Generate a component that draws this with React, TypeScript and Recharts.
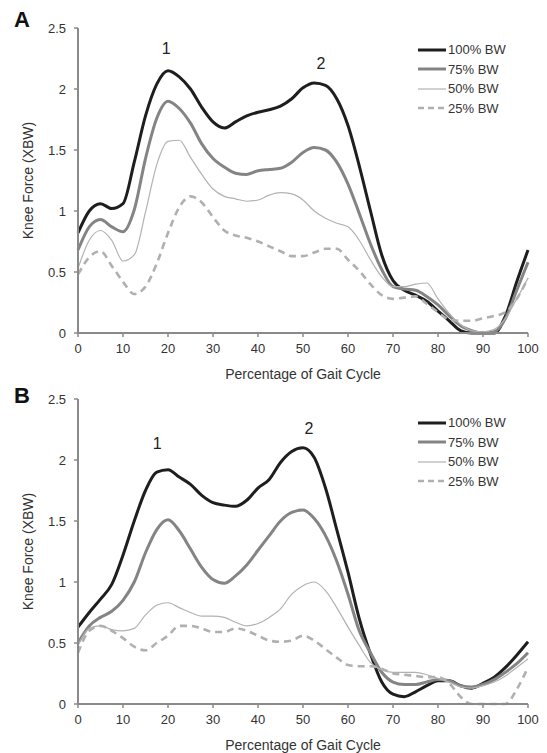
import { LineChart, Line, XAxis, YAxis, Legend, ReferenceDot } from "recharts";

// percentage of gait cycle, sampled every 2.5 %
const gaitPct = [
  0, 2.5, 5, 7.5, 10, 12.5, 15, 17.5, 20, 22.5, 25, 27.5, 30, 32.5, 35, 37.5, 40, 42.5, 45, 47.5,
  50, 52.5, 55, 57.5, 60, 62.5, 65, 67.5, 70, 72.5, 75, 77.5, 80, 82.5, 85, 87.5, 90, 92.5, 95, 97.5, 100,
];

// panel A
const a100 = [
  0.82, 1.0, 1.06, 1.02, 1.06, 1.4, 1.78, 2.04, 2.15, 2.1, 2.0, 1.85, 1.73, 1.68, 1.73, 1.78, 1.81, 1.83, 1.86, 1.92,
  2.01, 2.05, 2.03, 1.92, 1.7, 1.37, 1.0, 0.64, 0.43, 0.35, 0.31, 0.26, 0.18, 0.1, 0.02, 0, 0, 0, 0.14, 0.42, 0.68,
];
const a75 = [
  0.68, 0.87, 0.93, 0.87, 0.83, 1.01, 1.43, 1.76, 1.9, 1.84, 1.72, 1.55, 1.43, 1.36, 1.31, 1.3, 1.33, 1.34, 1.35, 1.4,
  1.48, 1.52, 1.5, 1.4, 1.22, 0.98, 0.73, 0.52, 0.38, 0.36, 0.35, 0.3, 0.23, 0.14, 0.06, 0.02, 0, 0.01, 0.12, 0.35, 0.58,
];
const a50 = [
  0.53, 0.76, 0.84, 0.76, 0.59, 0.64, 0.99, 1.38, 1.57, 1.58, 1.44, 1.3, 1.18, 1.12, 1.1, 1.08, 1.09, 1.13, 1.15, 1.14,
  1.09, 1.0, 0.94, 0.9, 0.87, 0.76, 0.6, 0.46, 0.38, 0.38, 0.4, 0.41, 0.28, 0.16, 0.07, 0.02, 0.01, 0.03, 0.12, 0.28, 0.45,
];
const a25 = [
  0.48, 0.62, 0.67, 0.55, 0.42, 0.32, 0.38, 0.57, 0.82, 1.03, 1.12, 1.07, 0.95, 0.84, 0.8, 0.78, 0.75, 0.71, 0.67, 0.63,
  0.63, 0.66, 0.69, 0.69, 0.6, 0.51, 0.4, 0.31, 0.28, 0.29, 0.3, 0.24, 0.17, 0.11, 0.1, 0.1, 0.12, 0.14, 0.17, 0.28, 0.45,
];

// panel B
const b100 = [
  0.63, 0.75, 0.86, 0.98, 1.22, 1.5, 1.75, 1.9, 1.92, 1.86, 1.8, 1.71, 1.65, 1.63, 1.62, 1.67, 1.77, 1.84, 1.98, 2.07,
  2.1, 2.02, 1.77, 1.43, 1.08, 0.7, 0.41, 0.18, 0.08, 0.06, 0.1, 0.15, 0.19, 0.19, 0.15, 0.13, 0.17, 0.22, 0.3, 0.4, 0.51,
];
const b75 = [
  0.5, 0.64, 0.71, 0.76, 0.85, 1.0, 1.24, 1.43, 1.51, 1.42, 1.27, 1.12, 1.02, 0.99, 1.05, 1.14, 1.26, 1.38, 1.5, 1.57,
  1.59, 1.52, 1.38, 1.17, 0.9, 0.6, 0.42, 0.26, 0.18, 0.16, 0.16, 0.18, 0.2, 0.19, 0.15, 0.14, 0.16, 0.2, 0.26, 0.33, 0.42,
];
const b50 = [
  0.48, 0.62, 0.64, 0.61, 0.6, 0.62, 0.73, 0.81, 0.83, 0.79, 0.75, 0.72, 0.72, 0.71, 0.67, 0.64, 0.66, 0.71, 0.78, 0.9,
  0.97, 1.0, 0.93, 0.79, 0.63, 0.48, 0.34, 0.28, 0.26, 0.26, 0.26, 0.24, 0.21, 0.18, 0.14, 0.13, 0.15, 0.18, 0.23, 0.3, 0.37,
];
const b25 = [
  0.42, 0.6, 0.64, 0.6, 0.54, 0.47, 0.44, 0.5, 0.56, 0.64, 0.64, 0.62, 0.59, 0.59, 0.62, 0.6, 0.56, 0.52, 0.51, 0.52,
  0.56, 0.52, 0.45, 0.38, 0.32, 0.31, 0.31, 0.29, 0.25, 0.24, 0.23, 0.22, 0.22, 0.17, 0.06, 0, 0, 0, 0, 0.12, 0.3,
];

const seriesNames = ["100% BW", "75% BW", "50% BW", "25% BW"];
const xTicks = [0, 10, 20, 30, 40, 50, 60, 70, 80, 90, 100];
const yTicks = [0, 0.5, 1, 1.5, 2, 2.5];

// peak markers "1" and "2": [pct, force]
const peaksA = [
  { text: "1", x: 19.6, y: 2.33 },
  { text: "2", x: 54, y: 2.21 },
];
const peaksB = [
  { text: "1", x: 17.6, y: 2.14 },
  { text: "2", x: 51.3, y: 2.26 },
];

const FONT = '"Liberation Sans", Arial, Helvetica, sans-serif';
const AXIS = "#8a8a8a";
const TEXT = "#333";

const STYLES = [
  { key: "bw100", color: "#1e1e1e", width: 3, dash: undefined as string | undefined },
  { key: "bw75", color: "#848484", width: 3, dash: undefined as string | undefined },
  { key: "bw50", color: "#b2b2b2", width: 1.2, dash: undefined as string | undefined },
  { key: "bw25", color: "#b0b0b0", width: 2.6, dash: "7 5" as string | undefined },
];

function buildRows(s100: number[], s75: number[], s50: number[], s25: number[]) {
  return gaitPct.map((p, i) => ({ pct: p, bw100: s100[i], bw75: s75[i], bw50: s50[i], bw25: s25[i] }));
}

function GaitLegend() {
  return (
    <div style={{ fontFamily: FONT, fontSize: 13, color: TEXT }}>
      {STYLES.map((s, i) => (
        <div key={s.key} style={{ display: "flex", alignItems: "center", height: 19.5 }}>
          <svg width={28} height={6} style={{ display: "block" }}>
            <line
              x1={0}
              y1={3}
              x2={28}
              y2={3}
              stroke={s.color}
              strokeWidth={s.width}
              strokeDasharray={s.dash ? "6 4" : undefined}
            />
          </svg>
          <span style={{ marginLeft: 2, lineHeight: "19.5px" }}>{seriesNames[i]}</span>
        </div>
      ))}
    </div>
  );
}

const yLabel = (props: any) => {
  const vb = props.viewBox || {};
  const cx = 28;
  const cy = (vb.y ?? 28) + (vb.height ?? 305) / 2;
  return (
    <text
      x={cx}
      y={cy}
      transform={`rotate(-90 ${cx} ${cy})`}
      textAnchor="middle"
      dominantBaseline="central"
      fill={TEXT}
      fontSize={14}
      fontFamily={FONT}
    >
      Knee Force (XBW)
    </text>
  );
};

function GaitPanel({ rows, peaks, legendTop }: { rows: any[]; peaks: typeof peaksA; legendTop: number }) {
  return (
    <LineChart width={547} height={382} data={rows} margin={{ top: 28, right: 19, bottom: 3, left: 0 }}>
      <XAxis
        dataKey="pct"
        type="number"
        domain={[0, 100]}
        ticks={xTicks}
        interval={0}
        height={46}
        axisLine={{ stroke: AXIS, strokeWidth: 2 }}
        tickLine={{ stroke: AXIS, strokeWidth: 1.5 }}
        tickSize={4}
        tickMargin={7}
        tick={{ fill: TEXT, fontSize: 13, fontFamily: FONT }}
        label={{
          value: "Percentage of Gait Cycle",
          position: "insideBottom",
          offset: 0,
          fill: TEXT,
          fontSize: 14,
          fontFamily: FONT,
        }}
      />
      <YAxis
        type="number"
        domain={[0, 2.5]}
        ticks={yTicks}
        interval={0}
        width={78}
        axisLine={{ stroke: AXIS, strokeWidth: 2 }}
        tickLine={{ stroke: AXIS, strokeWidth: 1.5 }}
        tickSize={4}
        tickMargin={8}
        tick={{ fill: TEXT, fontSize: 13, fontFamily: FONT }}
        label={yLabel}
      />
      <Legend
        layout="vertical"
        align="center"
        verticalAlign="middle"
        content={() => <GaitLegend />}
        wrapperStyle={{ left: 418, top: legendTop, width: 120, right: "auto", bottom: "auto" }}
      />
      {STYLES.map((s, i) => (
        <Line
          key={s.key}
          dataKey={s.key}
          name={seriesNames[i]}
          type="monotone"
          stroke={s.color}
          strokeWidth={s.width}
          strokeDasharray={s.dash}
          dot={false}
          activeDot={false}
          isAnimationActive={false}
        />
      ))}
      {peaks.map((p) => (
        <ReferenceDot
          key={p.text}
          x={p.x}
          y={p.y}
          r={0}
          fill="none"
          stroke="none"
          ifOverflow="visible"
          label={{ value: p.text, position: "center", fill: "#222", fontSize: 16, fontFamily: FONT }}
        />
      ))}
    </LineChart>
  );
}

const letterStyle = {
  position: "absolute" as const,
  left: 14,
  fontFamily: FONT,
  fontWeight: 700,
  fontSize: 22,
  lineHeight: "22px",
  color: "#111",
};

export default function App() {
  const rowsA = buildRows(a100, a75, a50, a25);
  const rowsB = buildRows(b100, b75, b50, b25);
  return (
    <div
      style={{
        position: "absolute",
        left: 0,
        top: 0,
        width: 547,
        height: 753,
        background: "#fff",
        overflow: "hidden",
      }}
    >
      <div style={{ position: "absolute", left: 0, top: 0 }}>
        <GaitPanel rows={rowsA} peaks={peaksA} legendTop={40} />
      </div>
      <div style={{ position: "absolute", left: 0, top: 371 }}>
        <GaitPanel rows={rowsB} peaks={peaksB} legendTop={42} />
      </div>
      <div style={{ ...letterStyle, top: 9 }}>A</div>
      <div style={{ ...letterStyle, top: 385 }}>B</div>
    </div>
  );
}
